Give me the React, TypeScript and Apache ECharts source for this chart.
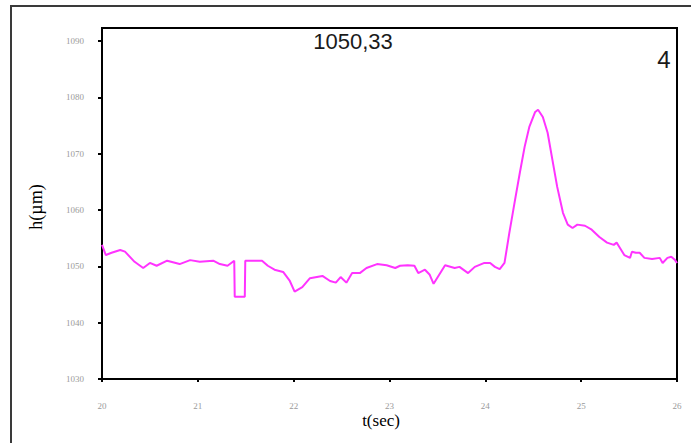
import React, { useEffect, useRef } from "react";
import * as echarts from "echarts";

const timeSec: number[] = [
  20.0, 20.04, 20.1, 20.19, 20.24, 20.34, 20.43, 20.5, 20.57, 20.68, 20.81, 20.92,
  21.02, 21.16, 21.23, 21.31, 21.38, 21.385, 21.49, 21.495, 21.52, 21.67, 21.73, 21.8,
  21.89, 21.96, 22.01, 22.09, 22.17, 22.3, 22.38, 22.44, 22.49, 22.55, 22.61, 22.69,
  22.76, 22.87, 22.97, 23.06, 23.11, 23.19, 23.26, 23.3, 23.37, 23.42, 23.46, 23.58,
  23.68, 23.73, 23.82, 23.89, 23.99, 24.05, 24.1, 24.15, 24.2, 24.25, 24.31, 24.36,
  24.41, 24.46, 24.52, 24.55, 24.6, 24.65, 24.7, 24.75, 24.81, 24.86, 24.91, 24.96,
  25.04, 25.11, 25.19, 25.27, 25.34, 25.37, 25.4, 25.45, 25.51, 25.53, 25.57, 25.61,
  25.66, 25.74, 25.82, 25.85, 25.9, 25.94, 25.98, 26.0,
];

const heightUm: number[] = [
  1053.8, 1052.0, 1052.4, 1052.9, 1052.6, 1050.8, 1049.7, 1050.6, 1050.1, 1051.0, 1050.4, 1051.1,
  1050.8, 1051.0, 1050.4, 1050.1, 1051.0, 1044.6, 1044.6, 1051.0, 1051.0, 1051.0, 1050.1, 1049.4,
  1049.0, 1047.4, 1045.5, 1046.3, 1047.9, 1048.3, 1047.4, 1047.1, 1048.1, 1047.1, 1048.8, 1048.8,
  1049.7, 1050.4, 1050.2, 1049.7, 1050.1, 1050.2, 1050.1, 1048.8, 1049.4, 1048.5, 1046.9, 1050.2,
  1049.7, 1049.9, 1048.8, 1049.9, 1050.6, 1050.6, 1049.9, 1049.5, 1050.6, 1055.9, 1061.8, 1066.6,
  1071.2, 1074.8, 1077.4, 1077.8, 1076.5, 1073.7, 1068.9, 1064.1, 1059.5, 1057.4, 1056.8, 1057.4,
  1057.2, 1056.5, 1055.2, 1054.2, 1053.8, 1054.2, 1053.4, 1052.0, 1051.5, 1052.6, 1052.4, 1052.4,
  1051.5, 1051.3, 1051.5, 1050.6, 1051.5, 1051.7, 1051.1, 1050.6,
];

const yTickValues: number[] = [1030, 1040, 1050, 1060, 1070, 1080, 1090];
const titleText = "1050,33";
const panelLabel = "4";
const xAxisTitle = "t(sec)";
const yAxisTitle = "h(µm)";

export default function App() {
  const ref = useRef<HTMLDivElement>(null);
  useEffect(() => {
    if (!ref.current) return;
    const chart = echarts.init(ref.current, undefined, { renderer: "svg" });
    const data = timeSec.map((t, i) => [t, heightUm[i]]);
    chart.setOption({
      animation: false,
      backgroundColor: "#ffffff",
      grid: {
        left: 102,
        top: 28,
        right: 14,
        bottom: 64,
        show: true,
        borderColor: "#000",
        borderWidth: 2,
        backgroundColor: "transparent",
      },
      xAxis: {
        type: "value",
        min: 20,
        max: 26,
        interval: 1,
        axisLine: { show: true, lineStyle: { color: "#000", width: 2 } },
        axisTick: { show: true, length: 3, lineStyle: { color: "#000", width: 2 } },
        splitLine: { show: false },
        axisLabel: {
          margin: 22,
          color: "#9a9a9a",
          fontSize: 9,
          fontFamily: "Liberation Serif",
          formatter: (v: number) => String(v),
        },
      },
      yAxis: {
        type: "value",
        min: 1030,
        max: 1092.3,
        axisLine: { show: true, lineStyle: { color: "#000", width: 2 } },
        axisTick: {
          show: true,
          length: 4,
          customValues: yTickValues,
          lineStyle: { color: "#000", width: 2 },
        },
        splitLine: { show: false },
        axisLabel: {
          customValues: yTickValues,
          margin: 18,
          color: "#9a9a9a",
          fontSize: 9,
          fontFamily: "Liberation Serif",
          formatter: (v: number) => String(v),
        },
      },
      series: [
        {
          type: "line",
          data,
          showSymbol: false,
          symbol: "none",
          lineStyle: { color: "#ff33ff", width: 2 },
          clip: false,
        },
      ],
      graphic: [
        {
          type: "rect",
          shape: { x: 11, y: 6, width: 720, height: 480 },
          style: { fill: "none", stroke: "#3a3a3a", lineWidth: 2 },
          silent: true,
          z: -1,
        },
        {
          type: "text",
          x: 353,
          y: 41,
          style: {
            text: titleText,
            fill: "#1a1a1a",
            font: "22px 'Liberation Sans', Arial, sans-serif",
            textAlign: "center",
            textVerticalAlign: "middle",
          },
        },
        {
          type: "text",
          x: 664,
          y: 59,
          style: {
            text: panelLabel,
            fill: "#1a1a1a",
            font: "24px 'Liberation Sans', Arial, sans-serif",
            textAlign: "center",
            textVerticalAlign: "middle",
          },
        },
        {
          type: "text",
          x: 381,
          y: 420,
          style: {
            text: xAxisTitle,
            fill: "#000",
            font: "17px 'Liberation Serif', serif",
            textAlign: "center",
            textVerticalAlign: "middle",
          },
        },
        {
          type: "text",
          x: 36,
          y: 207,
          rotation: Math.PI / 2,
          style: {
            text: yAxisTitle,
            fill: "#000",
            font: "18px 'Liberation Serif', serif",
            textAlign: "center",
            textVerticalAlign: "middle",
          },
        },
      ],
    });
    return () => chart.dispose();
  }, []);
  return (
    <div
      ref={ref}
      style={{ position: "fixed", left: 0, top: 0, width: 691, height: 443 }}
    />
  );
}
